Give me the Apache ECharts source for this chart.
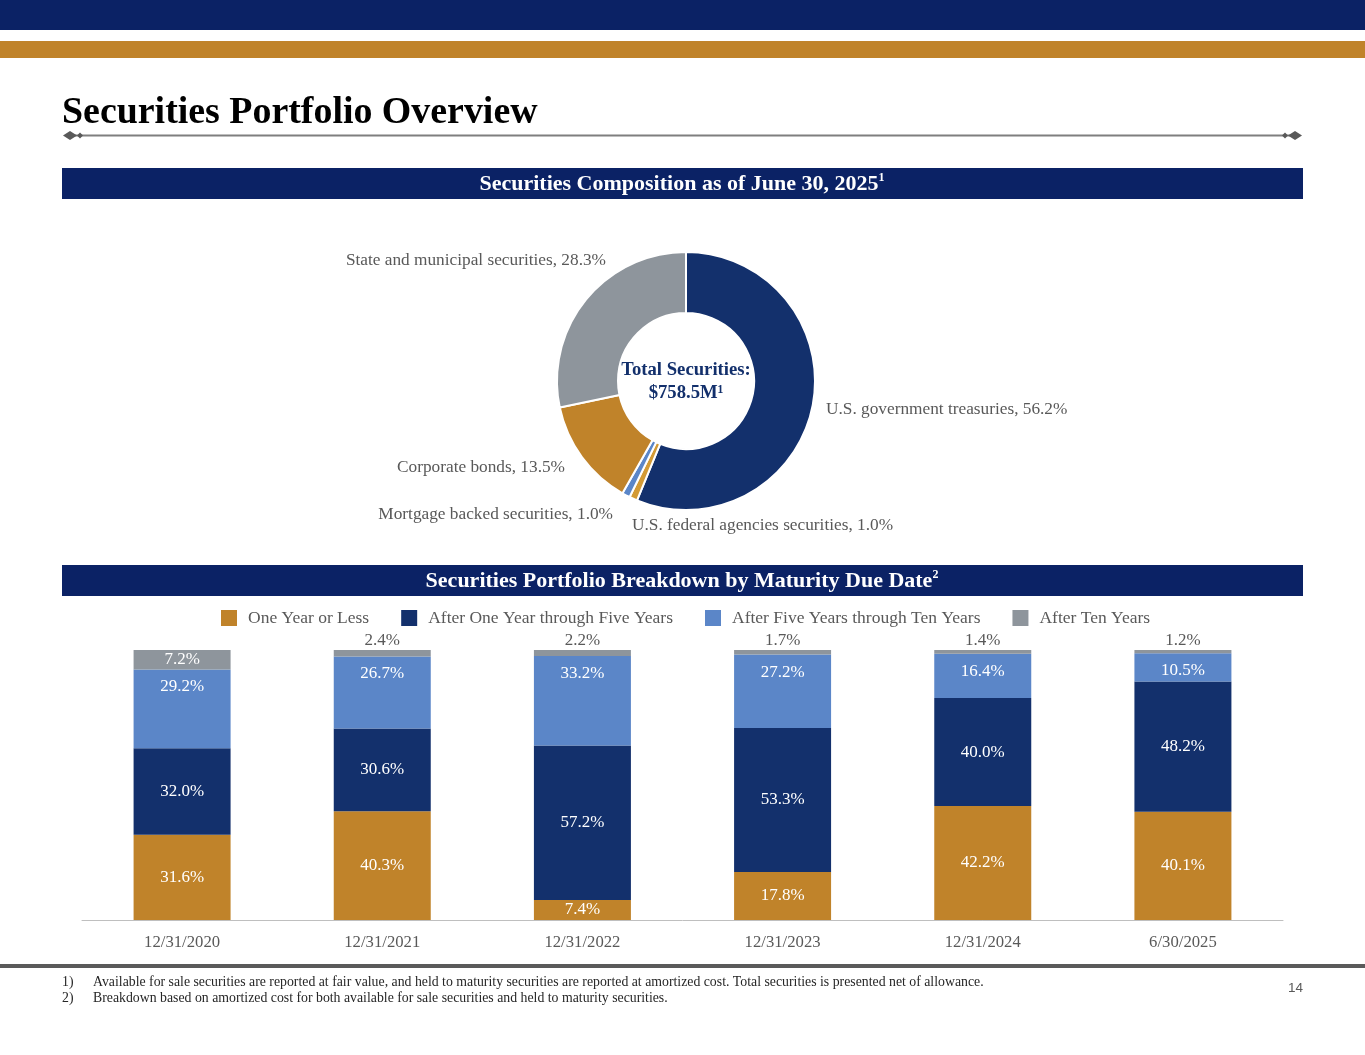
<!DOCTYPE html>
<html><head><meta charset="utf-8">
<script src="https://cdn.jsdelivr.net/npm/echarts@6/dist/echarts.min.js"></script>
<style>html,body{margin:0;padding:0;background:#fff}#c{width:1365px;height:1055px}</style>
</head><body><div id="c"></div>
<script>
// ---- data ----
const pieNames = ['U.S. government treasuries','U.S. federal agencies securities','Mortgage backed securities','Corporate bonds','State and municipal securities'];
const pieValues = [56.2, 1.0, 1.0, 13.5, 28.3];
const totalLabel = ['Total Securities:', '$758.5M\u00B9'];
const categories = ['12/31/2020','12/31/2021','12/31/2022','12/31/2023','12/31/2024','6/30/2025'];
const seriesNames = ['One Year or Less','After One Year through Five Years','After Five Years through Ten Years','After Ten Years'];
const oneYearOrLess = [31.6, 40.3, 7.4, 17.8, 42.2, 40.1];
const oneToFiveYears = [32.0, 30.6, 57.2, 53.3, 40.0, 48.2];
const fiveToTenYears = [29.2, 26.7, 33.2, 27.2, 16.4, 10.5];
const afterTenYears = [7.2, 2.4, 2.2, 1.7, 1.4, 1.2];
const footnotes = [
  'Available for sale securities are reported at fair value, and held to maturity securities are reported at amortized cost. Total securities is presented net of allowance.',
  'Breakdown based on amortized cost for both available for sale securities and held to maturity securities.'
];

// ---- styles ----
const SERIF = '"Liberation Serif","Times New Roman",serif';
const NAVY = '#0B2265';
const BAR_NAVY = '#13306C';
const GOLD = '#C0832A';
const LBLUE = '#5B86C8';
const GRAY = '#8E959C';
const TXT = '#595959';
const pieColors = [BAR_NAVY, '#D39A35', LBLUE, GOLD, GRAY];
const pieLabelPos = [[826,409,'left'],[632,525,'left'],[613,514,'right'],[565,467,'right'],[606,260,'right']];

const chart = echarts.init(document.getElementById('c'), null, {renderer:'canvas'});
const pct = v => v.toFixed(1) + '%';
const barLabel = (pos, extra) => Object.assign({show:true, position:pos, color:'#fff', fontFamily:SERIF, fontSize:17, formatter:p=>pct(p.value)}, extra||{});

const ornament = (cx, dir) => ([
  {type:'polygon', shape:{points:[[cx-7,135.5],[cx,131],[cx+7,135.5],[cx,140]]}, style:{fill:'#595959'}},
  {type:'polygon', shape:{points:[[cx+dir*10-3,135.5],[cx+dir*10,132.5],[cx+dir*10+3,135.5],[cx+dir*10,138.5]]}, style:{fill:'#595959'}}
]);

const banner = (y, txt, sup) => ([
  {type:'rect', shape:{x:62,y:y,width:1241,height:31}, style:{fill:NAVY}},
  {type:'text', x:682, y:y+16, style:{text:'{a|'+txt+'}{s|'+sup+'}', align:'center', verticalAlign:'middle',
    rich:{a:{fontFamily:SERIF, fontWeight:'bold', fontSize:22, fill:'#fff', lineHeight:24},
          s:{fontFamily:SERIF, fontWeight:'bold', fontSize:12, fill:'#fff', verticalAlign:'top', lineHeight:24}}}}
]);

const graphics = [
  {type:'rect', shape:{x:0,y:0,width:1365,height:30}, style:{fill:NAVY}},
  {type:'rect', shape:{x:0,y:41,width:1365,height:17}, style:{fill:GOLD}},
  {type:'text', x:62, y:113, style:{text:'Securities Portfolio Overview', fontFamily:SERIF, fontWeight:'bold', fontSize:37.9, fill:'#000', verticalAlign:'middle'}},
  {type:'line', shape:{x1:72,y1:135.5,x2:1292,y2:135.5}, style:{stroke:'#7F7F7F', lineWidth:2}},
  ...ornament(70, 1), ...ornament(1295, -1),
  ...banner(168, 'Securities Composition as of June 30, 2025', '1'),
  ...banner(565, 'Securities Portfolio Breakdown by Maturity Due Date', '2'),
  {type:'text', x:686, y:370, style:{text:totalLabel[0], fontFamily:SERIF, fontWeight:'bold', fontSize:18.7, fill:BAR_NAVY, align:'center', verticalAlign:'middle'}},
  {type:'text', x:686, y:393, style:{text:totalLabel[1], fontFamily:SERIF, fontWeight:'bold', fontSize:18.7, fill:BAR_NAVY, align:'center', verticalAlign:'middle'}},
  {type:'rect', shape:{x:0,y:964,width:1365,height:4}, style:{fill:'#5A5A5A'}},
  {type:'text', x:62, y:982, style:{text:'1)', fontFamily:SERIF, fontSize:13.8, fill:'#262626', verticalAlign:'middle'}},
  {type:'text', x:93, y:982, style:{text:footnotes[0], fontFamily:SERIF, fontSize:13.8, fill:'#262626', verticalAlign:'middle'}},
  {type:'text', x:62, y:998, style:{text:'2)', fontFamily:SERIF, fontSize:13.8, fill:'#262626', verticalAlign:'middle'}},
  {type:'text', x:93, y:998, style:{text:footnotes[1], fontFamily:SERIF, fontSize:13.8, fill:'#262626', verticalAlign:'middle'}},
  {type:'text', x:1288, y:988, style:{text:'14', fontFamily:'"Liberation Sans",Arial,sans-serif', fontSize:13.5, fill:TXT, verticalAlign:'middle'}}
];

const option = {
  animation:false,
  backgroundColor:'#fff',
  graphic: graphics,
  legend:{
    left:221, top:609, padding:0, itemWidth:16, itemHeight:16, itemGap:32, icon:'rect',
    textStyle:{fontFamily:SERIF, fontSize:17.5, color:TXT, padding:[0,0,0,6]},
    data: seriesNames
  },
  grid:{left:82, right:82, top:650, bottom:135},
  xAxis:{type:'category', data:categories, axisTick:{show:false},
    axisLine:{lineStyle:{color:'#BFBFBF', width:1}},
    axisLabel:{fontFamily:SERIF, fontSize:16.7, color:TXT, margin:14}},
  yAxis:{type:'value', min:0, max:100, show:false, splitLine:{show:false}},
  series:[
    {type:'pie', center:[686,381], radius:[68,129], startAngle:90, clockwise:true,
     itemStyle:{borderColor:'#fff', borderWidth:2},
     label:{show:true, position:'outside', fontFamily:SERIF, fontSize:17.3, color:TXT,
       formatter:p=>p.name + ', ' + pct(p.value)},
     labelLine:{show:false},
     labelLayout:p=>{const q=pieLabelPos[p.dataIndex]; return {x:q[0], y:q[1], align:q[2], verticalAlign:'middle'};},
     emphasis:{disabled:true},
     data: pieNames.map((n,i)=>({name:n, value:pieValues[i], itemStyle:{color:pieColors[i]}}))
    },
    {name:seriesNames[0], type:'bar', stack:'m', barWidth:97, color:GOLD, data:oneYearOrLess, label:barLabel('inside')},
    {name:seriesNames[1], type:'bar', stack:'m', barWidth:97, color:BAR_NAVY, data:oneToFiveYears, label:barLabel('inside')},
    {name:seriesNames[2], type:'bar', stack:'m', barWidth:97, color:LBLUE, data:fiveToTenYears, label:barLabel('insideTop', {distance:9})},
    {name:seriesNames[3], type:'bar', stack:'m', barWidth:97, color:GRAY,
     data: afterTenYears.map(v => v >= 5 ? {value:v, label:{position:'inside', color:'#fff'}} : {value:v, label:{position:'top', color:TXT, distance:1}}),
     label:barLabel('inside')}
  ]
};
chart.setOption(option);
</script>
</body></html>
